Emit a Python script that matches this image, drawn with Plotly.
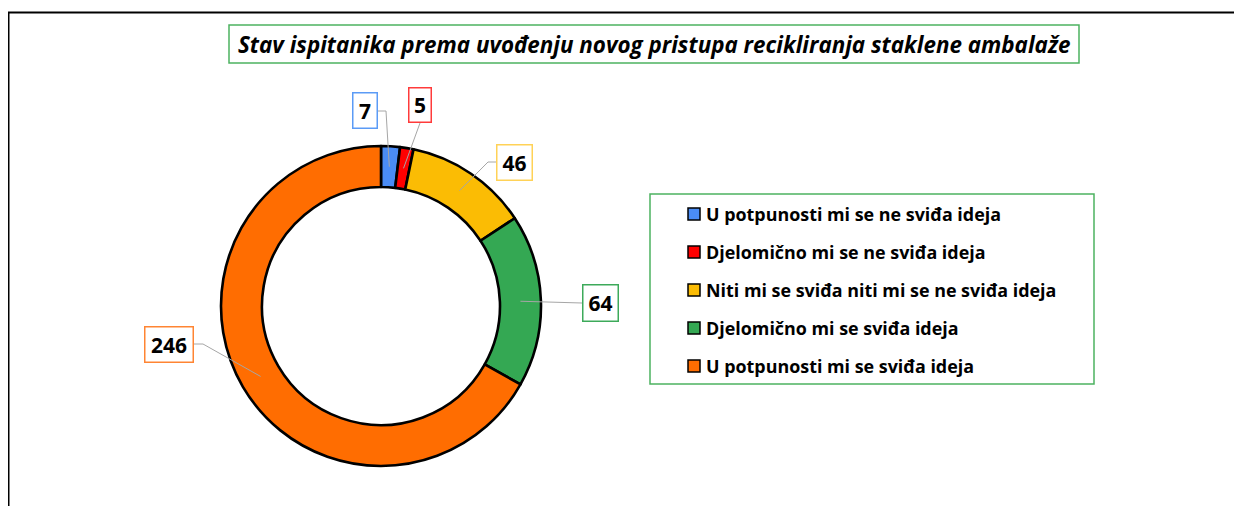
import math
import plotly.graph_objects as go

# ---- data ----
categories = [
    "U potpunosti mi se ne sviđa ideja",
    "Djelomično mi se ne sviđa ideja",
    "Niti mi se sviđa niti mi se ne sviđa ideja",
    "Djelomično mi se sviđa ideja",
    "U potpunosti mi se sviđa ideja",
]
values = [7, 5, 46, 64, 246]
title_text = "Stav ispitanika prema uvođenju novog pristupa recikliranja staklene ambalaže"

# ---- style ----
colors = ["#4A8CF5", "#FF0000", "#FBBC04", "#34A853", "#FF6D01"]
box_colors = ["#5B9BF6", "#FF3B3B", "#FFD257", "#3DAA5A", "#FF8533"]
FONT = "Open Sans"
OFF = 8  # page body margin
W, H = 1242 - OFF, 506 - OFF
CX, CY, R_OUT, R_IN = 381, 306, 160, 119


def px(x):
    return (x - OFF) / W


def py(y):
    return 1 - (y - OFF) / H


fig = go.Figure()
fig.add_trace(go.Pie(
    labels=categories,
    values=values,
    hole=R_IN / R_OUT,
    sort=False,
    direction="clockwise",
    rotation=0,
    textinfo="none",
    hoverinfo="label+value",
    marker=dict(colors=colors, line=dict(color="black", width=2.6)),
    domain=dict(x=[px(CX - R_OUT), px(CX + R_OUT)], y=[py(CY + R_OUT), py(CY - R_OUT)]),
    showlegend=False,
))

shapes = []
annotations = []

# outer frame
shapes.append(dict(type="rect", xref="paper", yref="paper",
                   x0=px(8.5), x1=px(1260), y0=py(12.5), y1=py(530),
                   line=dict(color="black", width=2), fillcolor="rgba(0,0,0,0)"))

# title box + text
shapes.append(dict(type="rect", xref="paper", yref="paper",
                   x0=px(229), x1=px(1079), y0=py(63), y1=py(25),
                   line=dict(color="#4CB260", width=1.5), fillcolor="white"))
annotations.append(dict(xref="paper", yref="paper", x=px(654), y=py(44),
                        text="<b><i>" + title_text + "</i></b>", showarrow=False,
                        font=dict(family=FONT, size=22.4, color="black"),
                        xanchor="center", yanchor="middle"))

# data labels with leader lines
total = sum(values)
r_mid = (R_IN + R_OUT) / 2
label_layout = [
    # box centre x, y, width, height, elbow points (from box edge)
    (365, 110.5, 26, 37, [(378, 111), (386, 111)]),
    (420, 105, 24, 36, [(420, 123)]),
    (514.5, 162.5, 37, 37, [(496, 162), (488, 162)]),
    (600.5, 303, 37, 38, [(582, 303)]),
    (169, 344.5, 50, 37, [(194, 344), (203, 344)]),
]
cum = 0
for i, v in enumerate(values):
    mid = (cum + v / 2) / total * 2 * math.pi
    cum += v
    ex = CX + r_mid * math.sin(mid)
    ey = CY - r_mid * math.cos(mid)
    bx, by, bw, bh, elbow = label_layout[i]
    pts = elbow + [(ex, ey)]
    path = "M " + " L ".join(f"{px(a)},{py(b)}" for a, b in pts)
    shapes.append(dict(type="path", xref="paper", yref="paper", path=path,
                       line=dict(color="#A6A6A6", width=1)))
    annotations.append(dict(xref="paper", yref="paper", x=px(bx), y=py(by),
                            text=f"<b>{v}</b>", showarrow=False,
                            font=dict(family=FONT, size=21, color="black"),
                            xanchor="center", yanchor="middle",
                            width=bw - 3, height=bh - 3, borderpad=0,
                            bgcolor="white", bordercolor=box_colors[i], borderwidth=1.5))

# legend box
shapes.append(dict(type="rect", xref="paper", yref="paper",
                   x0=px(650), x1=px(1094), y0=py(384), y1=py(194),
                   line=dict(color="#4CB260", width=1.5), fillcolor="white"))
for i, cat in enumerate(categories):
    yc = 214 + 38 * i
    shapes.append(dict(type="rect", xref="paper", yref="paper",
                       x0=px(688), x1=px(700), y0=py(yc + 6), y1=py(yc - 6),
                       line=dict(color="black", width=1.5), fillcolor=colors[i]))
    annotations.append(dict(xref="paper", yref="paper", x=px(704), y=py(yc),
                            text=f"<b>{cat}</b>", showarrow=False,
                            font=dict(family=FONT, size=17.9, color="black"),
                            xanchor="left", yanchor="middle"))

fig.update_layout(
    width=W, height=H,
    margin=dict(l=0, r=0, t=0, b=0),
    paper_bgcolor="white",
    plot_bgcolor="white",
    shapes=shapes,
    annotations=annotations,
)
fig.write_html("out.html")
